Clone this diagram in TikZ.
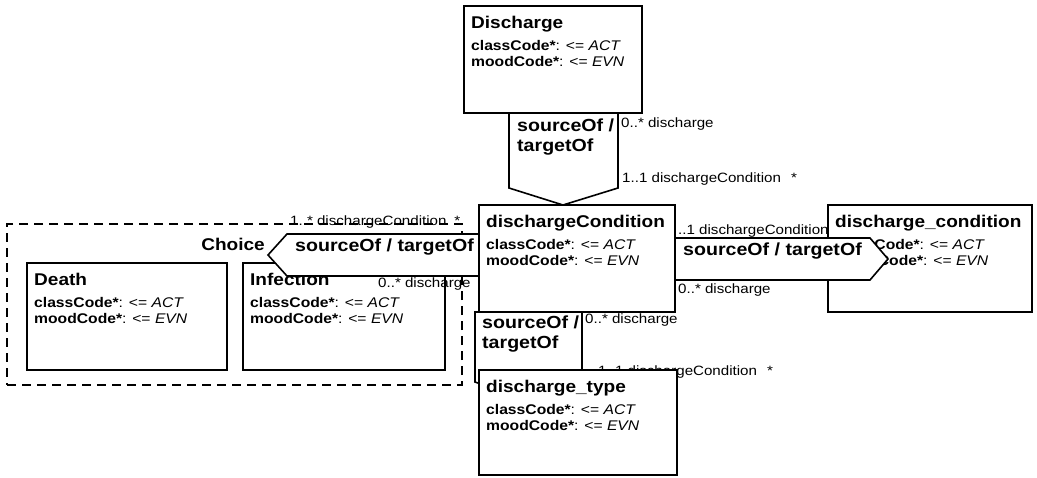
\documentclass[tikz,border=0pt]{standalone}
\usepackage{fontspec}
\setmainfont[FakeStretch=1.12]{Liberation Sans}
\newcommand\attrline[2]{\textbf{#1*}: <= \textit{#2}}
\tikzstyle{cls} = [draw,line width=1.6pt,fill=white,anchor=north west,inner sep=0,outer sep=0]
\tikzstyle{choicebox} = [draw,line width=1.3pt,dash pattern=on 9pt off 6pt,anchor=north west,inner sep=0,outer sep=0]
\tikzstyle{clsname} = [anchor=base west,inner sep=0,font=\fontsize{17}{17}\selectfont\bfseries]
\tikzstyle{attr} = [anchor=base west,inner sep=0,font=\fontsize{14}{14}\selectfont]
\tikzstyle{assoc} = [draw,line width=1.6pt,fill=white,line join=miter]
\tikzstyle{assocname} = [anchor=base west,inner sep=0,align=left,font=\fontsize{17.5}{20}\selectfont\bfseries]
\tikzstyle{role} = [anchor=base west,inner sep=0,font=\fontsize{13.5}{13.5}\selectfont]
\newcommand\umlclass[6]{%
	\node[cls,minimum width=#4,minimum height=#5] (#1) at (#2,#3) {};
	\node[clsname] (#1-name) at ([shift={(7,22)}]#1.north west) {#6};
	\node[attr] (#1-class) at ([shift={(7,44)}]#1.north west) {\attrline{classCode}{ACT}};
	\node[attr] (#1-mood) at ([shift={(7,60)}]#1.north west) {\attrline{moodCode}{EVN}};}

\begin{document}
\begin{tikzpicture}[x=1pt,y=-1pt]
\useasboundingbox (0,0) rectangle (1037,477);

% choice group
\node[choicebox,minimum width=455,minimum height=161] (choice) at (7,224) {};
\umlclass{death}{27}{263}{200}{107}{Death}
\umlclass{infection}{243}{263}{202}{107}{Infection}
\node[clsname,anchor=base east] (choice-name) at (265,250) {Choice};

% classes in the middle
\umlclass{disc}{464}{6}{178}{107}{Discharge}
\umlclass{cond}{479}{205}{196}{107}{dischargeCondition}

% associations
\draw[assoc] (509,0 |- disc.south) -- (509,188) -- (563,0 |- cond.north) -- (618,188) -- (618,0 |- disc.south) -- cycle;
\draw[assoc] (cond.west |- 0,234) -- (287,234) -- (268,255) -- (287,276) -- (cond.west |- 0,276) -- cycle;

\umlclass{dcond}{828}{205}{204}{107}{discharge\_condition}
\draw[assoc] (cond.east |- 0,238) -- (870,238) -- (888,259) -- (870,280) -- (cond.east |- 0,280) -- cycle;

\draw[assoc] (475,0 |- cond.south) -- (475,382) -- (528,400) -- (582,382) -- (582,0 |- cond.south) -- cycle;
\node[role] (type-src) at (585,323) {0..* discharge};
\node[role] (type-tgt) at (598,375) {1..1 dischargeCondition\hspace{10pt}*};
\umlclass{dtype}{479}{370}{198}{105}{discharge\_type}

% association names
\node[assocname,anchor=north west] (top-name) at (517,119) {sourceOf /\\targetOf};
\node[assocname] (left-name) at (295,251) {sourceOf / targetOf};
\node[assocname] (right-name) at (683,255) {sourceOf / targetOf};
\node[assocname,anchor=north west] (low-name) at (482,316) {sourceOf /\\targetOf};

% roles
\node[role] (top-src) at (621,127) {0..* discharge};
\node[role] (top-tgt) at (622,182) {1..1 dischargeCondition\hspace{10pt}*};
\node[role] (left-tgt) at (290,225) {1..* dischargeCondition\hspace{8pt}*};
\node[role] (left-src) at (378,287) {0..* discharge};
\node[role] (right-tgt) at (678,234) {..1 dischargeCondition};
\node[role] (right-src) at (678,293) {0..* discharge};

\end{tikzpicture}
\end{document}
